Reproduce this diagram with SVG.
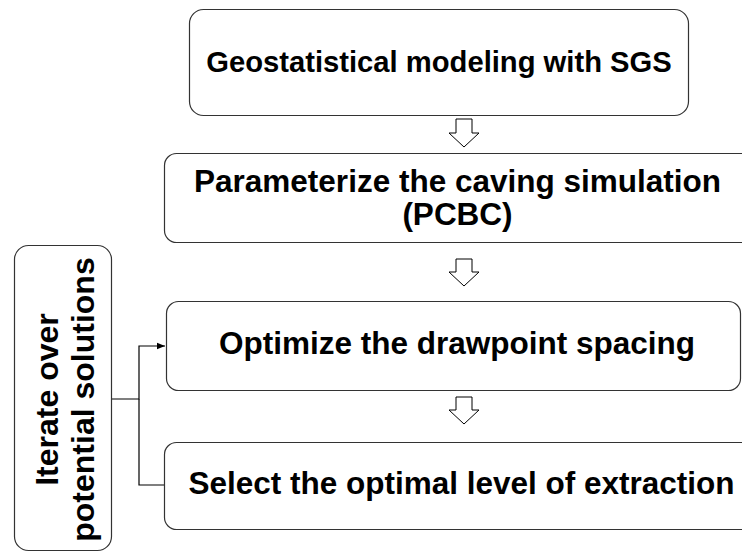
<svg xmlns="http://www.w3.org/2000/svg" width="742" height="553" viewBox="0 0 742 553">
<style>
.box{fill:#fff;stroke:#333;stroke-width:1.2}
.t{font-family:"Liberation Sans",Arial,sans-serif;font-weight:bold;font-size:31.5px;fill:#000;text-anchor:middle}
.blk{fill:#fff;stroke:#000;stroke-width:1}
.con{fill:none;stroke:#000;stroke-width:1.2}
</style>
<defs>
<marker id="ah" viewBox="0 0 10 10" refX="10" refY="5" markerWidth="8" markerHeight="8" markerUnits="userSpaceOnUse" orient="auto">
<path d="M0,1 L10,5 L0,9 Z" fill="#000"/>
</marker>
</defs>
<rect width="742" height="553" fill="#fff"/>
<g id="connectors">
<path class="blk" d="M456,119 H472 V133 H479 L464,147 L449,133 H456 Z"/>
<path class="blk" d="M456,259 H472 V272 H479 L464,286 L449,272 H456 Z"/>
<path class="blk" d="M456,397 H472 V410 H479 L464,424 L449,410 H456 Z"/>
<path class="con" d="M111,399 H139 V346 H165" marker-end="url(#ah)"/>
<path class="con" d="M139,399 V485 H164"/>
</g>
<g id="node1">
<rect class="box" x="189.5" y="9.5" width="499" height="106" rx="14"/>
<text class="t" x="439" y="72" style="font-size:29.2px">Geostatistical modeling with SGS</text>
</g>
<g id="node2">
<rect class="box" x="164.5" y="153.5" width="600" height="89" rx="12"/>
<text class="t" x="457.5" y="192">Parameterize the caving simulation</text>
<text class="t" x="457.5" y="225">(PCBC)</text>
</g>
<g id="node3">
<rect class="box" x="166.5" y="301.5" width="574" height="89" rx="12"/>
<text class="t" x="457" y="354">Optimize the drawpoint spacing</text>
</g>
<g id="node4">
<rect class="box" x="164.5" y="442.5" width="600" height="87" rx="12"/>
<text class="t" x="461.5" y="494">Select the optimal level of extraction</text>
</g>
<g id="node5">
<rect class="box" x="14.5" y="245.5" width="97" height="305" rx="14"/>
<g transform="translate(0,399.5) rotate(-90)">
<text class="t" x="0" y="57.5" style="font-size:32px">Iterate over</text>
<text class="t" x="0" y="93.5" style="font-size:32px">potential solutions</text>
</g>
</g>
</svg>
